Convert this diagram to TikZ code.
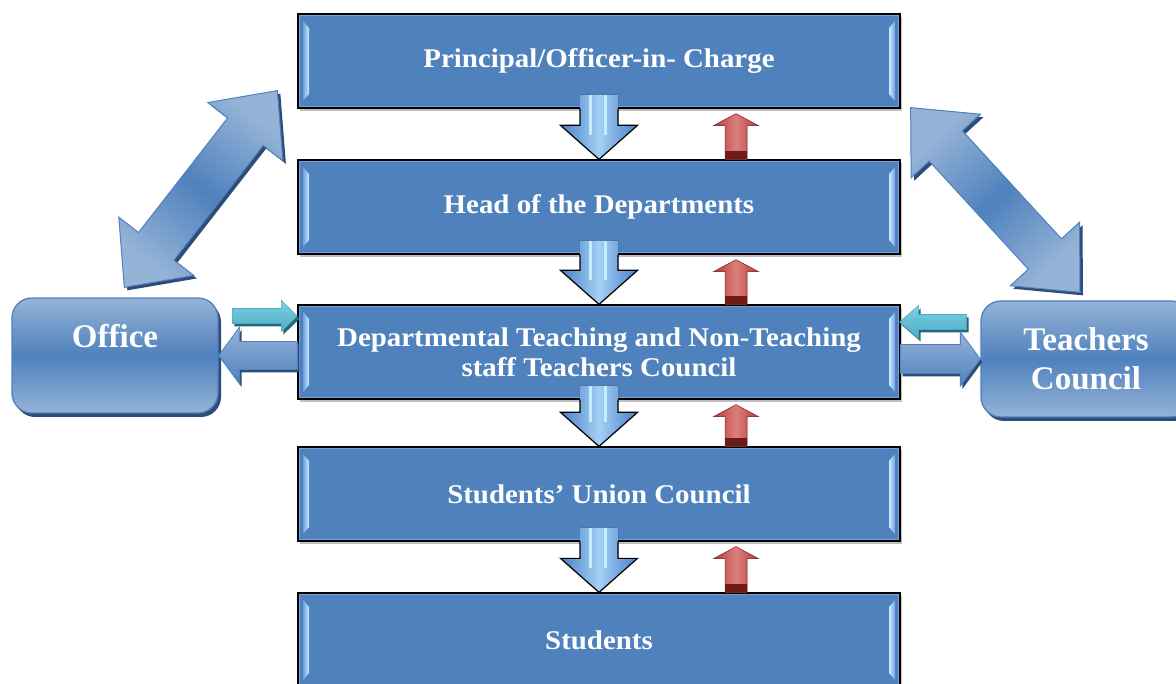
\documentclass[tikz,border=0pt]{standalone}
\usepackage{fontspec}
\setmainfont{Liberation Serif}
\newfontfamily\boxfont[FakeStretch=1.07]{Liberation Serif}
\usetikzlibrary{calc,shadows}
\definecolor{boxblue}{HTML}{4F81BD}
\definecolor{lightblue}{HTML}{95B3D7}
\definecolor{darkblue}{HTML}{2C4D75}
\definecolor{bevlight}{HTML}{C6ECFF}
\definecolor{frameblue}{HTML}{74A0DA}
\definecolor{tealc}{HTML}{4BACC6}
\definecolor{teallight}{HTML}{7FD0E2}
\definecolor{tealdark}{HTML}{23687A}
\definecolor{redc}{HTML}{B23C38}
\definecolor{redlight}{HTML}{DC7F7B}
\definecolor{reddark}{HTML}{6E1A18}
\definecolor{arrowlight}{HTML}{A3D0F5}
\definecolor{arrowmid}{HTML}{4A7FC6}
\tikzset{
  levelbox/.style={draw=black, line width=1.3pt, fill=boxblue,
    minimum width=602pt, minimum height=94pt, inner sep=0pt, text=white,
    font=\boxfont\bfseries\fontsize{27}{30}\selectfont, align=center,
    general shadow={fill=black, opacity=0.25, shadow xshift=2pt, shadow yshift=-3pt},
    path picture={
      \draw[frameblue, line width=4pt] (path picture bounding box.south west) rectangle (path picture bounding box.north east);
      \fill[left color=frameblue, right color=bevlight] ($(path picture bounding box.north west)+(5,7)$) -- ++(6,7) -- ($(path picture bounding box.south west)+(11,-14)$) -- ++(-6,7) -- cycle;
      \fill[right color=frameblue, left color=bevlight] ($(path picture bounding box.north east)+(-5,7)$) -- ++(-6,7) -- ($(path picture bounding box.south east)+(-11,-14)$) -- ++(6,7) -- cycle;
    }},
  sidebox/.style={draw=boxblue, line width=1.3pt, rounded corners=20pt,
    top color=lightblue, bottom color=lightblue, middle color=boxblue,
    text=white, font=\bfseries\fontsize{33}{39}\selectfont, align=center, inner sep=0pt,
    general shadow={fill=darkblue, shadow xshift=3pt, shadow yshift=-4pt}},
  diagshadow/.style={fill=darkblue, transform canvas={shift={(3pt,-3pt)}}},
  bluearrow/.style={top color=lightblue, bottom color=boxblue, draw=boxblue, line width=0.8pt},
  bluearrowshadow/.style={fill=darkblue, transform canvas={shift={(2pt,-3pt)}}},
  tealarrow/.style={top color=teallight, bottom color=tealc, draw=tealc, line width=0.6pt},
  tealarrowshadow/.style={fill=tealdark, transform canvas={shift={(2pt,-3pt)}}},
}
% double block arrow: #1 style, #2 tip A, #3 tip B, #4 head half, #5 shaft half, #6 head length
\newcommand\dblarrow[6]{%
  \coordinate (hA) at ($(#2)!#6!(#3)$);
  \coordinate (hB) at ($(#3)!#6!(#2)$);
  \path[#1] (#2) -- ($(hA)!#4!90:(#2)$) -- ($(hA)!#5!90:(#2)$) -- ($(hB)!#5!-90:(#3)$) -- ($(hB)!#4!-90:(#3)$) -- (#3) -- ($(hB)!#4!90:(#3)$) -- ($(hB)!#5!90:(#3)$) -- ($(hA)!#5!-90:(#2)$) -- ($(hA)!#4!-90:(#2)$) -- cycle;
}
% single block arrow: #1 style, #2 tail, #3 tip, #4 shaft half, #5 head half, #6 head length
\newcommand\sarrow[6]{%
  \coordinate (sH) at ($(#3)!#6!(#2)$);
  \path[#1] ($(#2)!#4!90:(#3)$) -- ($(sH)!#4!-90:(#2)$) -- ($(sH)!#5!-90:(#2)$) -- (#3) -- ($(sH)!#5!90:(#2)$) -- ($(sH)!#4!90:(#2)$) -- ($(#2)!#4!-90:(#3)$) -- cycle;
}
% down arrow from box #1 to box #2
\newcommand\dnarrow[2]{%
  \coordinate (t) at (#2.north -| ax);
  \coordinate (s) at (#1.south -| ax);
  \fill[left color=arrowmid, right color=arrowmid, middle color=arrowlight] (t) -- ++(-38.5,-34) -- ++(19.5,0) -- ($(s)+(-19,-14)$) -- ++(38,0) -- ($(t)+(19,-34)$) -- ++(19.5,0) -- cycle;
  \fill[bevlight] ($(s)+(-10,-14)$) rectangle ($(t)+(-7,-24)$);
  \fill[bevlight] ($(s)+(5,-14)$) rectangle ($(t)+(8,-24)$);
  \draw[black, line width=1.2pt, line join=miter] ($(s)+(-19,0)$) -- ($(t)+(-19,-34)$) -- ++(-19.5,0) -- (t) -- ++(38.5,-34) -- ++(-19.5,0) -- ($(s)+(19,0)$);
}
% red up arrow from box #2 (lower) to box #1 (upper)
\newcommand\uparr[2]{%
  \coordinate (rt) at ($(#1.south -| rx)+(0,5)$);
  \coordinate (rb) at (#2.north -| rx);
  \fill[left color=redc, right color=redc, middle color=redlight, draw=redc!80!black, line width=0.5pt] (rt) -- ++(22.5,12) -- ++(-11.5,0) -- ($(rb)+(11,0)$) -- ++(-22,0) -- ($(rt)+(-11,12)$) -- ++(-11.5,0) -- cycle;
  \fill[reddark] ($(rb)+(-11,0)$) rectangle ($(rb)+(11,-8)$);
}
\begin{document}
\begin{tikzpicture}[x=1pt,y=-1pt]
\useasboundingbox (0,0) rectangle (1176,684);
\fill[white] (0,0) rectangle (1176,684);
\coordinate (ax) at (599,0);
\coordinate (rx) at (736,0);

\node[levelbox] (b1) at (599,61) {Principal/Officer-in- Charge};
\node[levelbox] (b2) at (599,207) {Head of the Departments};
\node[levelbox] (b3) at (599,352) {Departmental Teaching and Non-Teaching\\staff Teachers Council};
\node[levelbox] (b4) at (599,494) {Students’ Union Council};
\node[levelbox] (b5) at (599,640) {Students};
\node[sidebox, minimum width=206pt, minimum height=115pt] (office) at (115,355.5) {Office\\\mbox{}};
\node[sidebox, minimum width=210pt, minimum height=116pt] (tc) at (1086,359) {Teachers\\Council};

% diagonal double arrows
\coordinate (dA) at ($(b1.south west)+(-20,-18)$);
\coordinate (dB) at ($(office.north west)+(113,-10)$);
\coordinate (eA) at ($(b1.south east)+(10,-1)$);
\coordinate (eB) at ($(tc.north)+(-6,-8)$);
\dblarrow{diagshadow}{dA}{dB}{47.5pt}{22.5pt}{52pt}
\dblarrow{top color=lightblue, bottom color=lightblue, middle color=boxblue, shading angle=-37.7, draw=boxblue, line width=1pt}{dA}{dB}{47.5pt}{22.5pt}{52pt}
\dblarrow{diagshadow}{eA}{eB}{47pt}{22.5pt}{52pt}
\dblarrow{top color=lightblue, bottom color=lightblue, middle color=boxblue, shading angle=42.4, draw=boxblue, line width=1pt}{eA}{eB}{47pt}{22.5pt}{52pt}

% horizontal arrows, left
\coordinate (lct) at ($(b3.west)+(-65,-36)$);
\coordinate (lch) at ($(b3.west)+(0,-36)$);
\sarrow{tealarrowshadow}{lct}{lch}{7.5pt}{15.5pt}{16pt}
\sarrow{tealarrow}{lct}{lch}{7.5pt}{15.5pt}{16pt}
\coordinate (lbt) at (b3.west |- office.east);
\sarrow{bluearrowshadow}{lbt}{office.east}{14pt}{28.5pt}{21pt}
\sarrow{bluearrow}{lbt}{office.east}{14pt}{28.5pt}{21pt}
% horizontal arrows, right
\coordinate (rct) at ($(b3.east)+(66,-30)$);
\coordinate (rch) at ($(b3.east)+(-1,-30)$);
\sarrow{tealarrowshadow}{rct}{rch}{7.5pt}{16.5pt}{19pt}
\sarrow{tealarrow}{rct}{rch}{7.5pt}{16.5pt}{19pt}
\coordinate (rbt) at (b3.east |- tc.west);
\sarrow{bluearrowshadow}{rbt}{tc.west}{14.5pt}{27pt}{20pt}
\sarrow{bluearrow}{rbt}{tc.west}{14.5pt}{27pt}{20pt}

% vertical arrows
\dnarrow{b1}{b2}
\dnarrow{b2}{b3}
\dnarrow{b3}{b4}
\dnarrow{b4}{b5}
\uparr{b1}{b2}
\uparr{b2}{b3}
\uparr{b3}{b4}
\uparr{b4}{b5}
\end{tikzpicture}
\end{document}
